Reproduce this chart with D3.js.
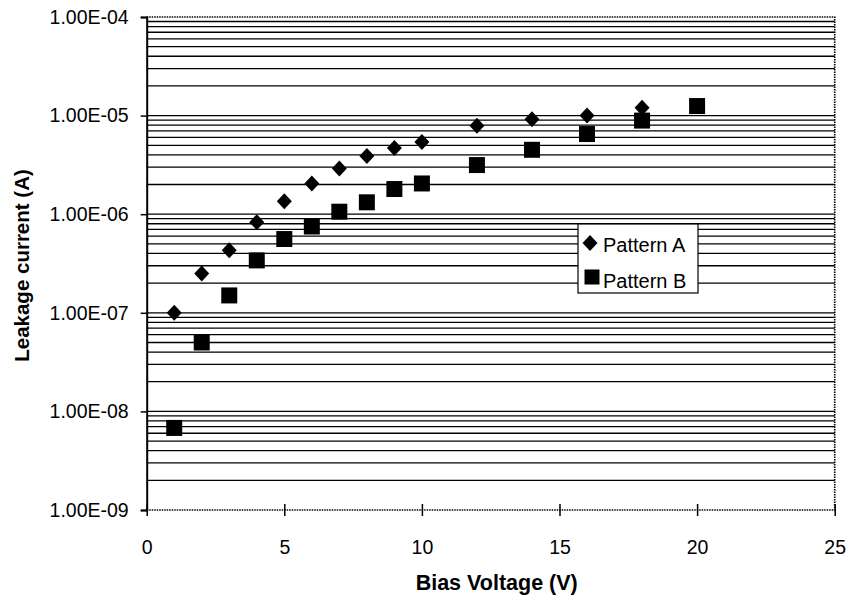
<!DOCTYPE html>
<html>
<head>
<meta charset="utf-8">
<script src="https://cdn.jsdelivr.net/npm/d3@7"></script>
<style>
  body { margin: 0; background: #fff; }
  text { font-family: "Liberation Sans", Arial, sans-serif; fill: #000; }
</style>
</head>
<body>
<script>
//data
var voltageA = [1, 2, 3, 4, 5, 6, 7, 8, 9, 10, 12, 14, 16, 18];
var currentA = [1.0e-7, 2.5e-7, 4.3e-7, 8.3e-7, 1.35e-6, 2.05e-6, 2.9e-6, 3.9e-6, 4.7e-6, 5.4e-6, 7.9e-6, 9.2e-6, 1.0e-5, 1.2e-5];
var voltageB = [1, 2, 3, 4, 5, 6, 7, 8, 9, 10, 12, 14, 16, 18, 20];
var currentB = [6.8e-9, 5.0e-8, 1.5e-7, 3.4e-7, 5.6e-7, 7.5e-7, 1.06e-6, 1.32e-6, 1.8e-6, 2.05e-6, 3.15e-6, 4.5e-6, 6.5e-6, 8.9e-6, 1.25e-5];
var xTicks = [0, 5, 10, 15, 20, 25];
var yTicks = [1e-9, 1e-8, 1e-7, 1e-6, 1e-5, 1e-4];
var yTickLabels = ["1.00E-09", "1.00E-08", "1.00E-07", "1.00E-06", "1.00E-05", "1.00E-04"];
var seriesNames = ["Pattern A", "Pattern B"];

//frame (note: "top" is taken by window.top, so use plot* names)
var width = 848, height = 595;
var plotLeft = 146.7, plotRight = 834.7, plotTop = 17, plotBottom = 510;

var svg = d3.select("body").append("svg")
    .attr("width", width)
    .attr("height", height);

var x = d3.scaleLinear().domain([0, 25]).range([plotLeft, plotRight]);
var y = d3.scaleLog().domain([1e-9, 1e-4]).range([plotBottom, plotTop]);

//gridlines: every decade plus 2..9 in between
var gridVals = [];
for (var e = -9; e < -4; e++) {
    for (var m = 1; m <= 9; m++) {
        if (m == 1 && e == -9) continue;
        gridVals.push(m * Math.pow(10, e));
    }
}
svg.selectAll(".grid")
    .data(gridVals)
    .enter()
    .append("line")
    .attr("class", "grid")
    .attr("x1", plotLeft)
    .attr("x2", plotRight)
    .attr("y1", function(d){ return y(d); })
    .attr("y2", function(d){ return y(d); })
    .style("stroke", "#000")
    .style("stroke-width", 1.3);

//dotted frame on top, right and bottom
svg.append("path")
    .attr("d", "M" + plotLeft + "," + plotTop + "H" + plotRight + "V" + plotBottom + "H" + plotLeft)
    .style("fill", "none")
    .style("stroke", "#000")
    .style("stroke-width", 1.6)
    .style("stroke-dasharray", "1.5,1");

//y axis
var yAxis = d3.axisLeft(y)
    .tickValues(yTicks)
    .tickSize(6)
    .tickPadding(12)
    .tickFormat(function(d, i){ return yTickLabels[i]; });
var gy = svg.append("g")
    .attr("transform", "translate(" + plotLeft + ",0)")
    .call(yAxis);
gy.select(".domain").style("stroke-width", 2);
gy.selectAll(".tick line").style("stroke-width", 1.5);
gy.selectAll(".tick text")
    .style("font-size", "19.5px")
    .style("font-family", "'Liberation Sans', Arial, sans-serif");

//x axis, ticks cross the line
var xAxis = d3.axisBottom(x)
    .tickValues(xTicks)
    .tickSize(6)
    .tickPadding(24)
    .tickFormat(d3.format("d"));
var gx = svg.append("g")
    .attr("transform", "translate(0," + plotBottom + ")")
    .call(xAxis);
gx.select(".domain").remove();
gx.selectAll(".tick line")
    .attr("y1", -6)
    .style("stroke-width", 1.5);
gx.selectAll(".tick text")
    .style("font-size", "19.5px")
    .style("font-family", "'Liberation Sans', Arial, sans-serif");

//axis titles
svg.append("text")
    .attr("x", (plotLeft + plotRight) / 2 + 6)
    .attr("y", 590)
    .attr("text-anchor", "middle")
    .style("font-size", "21.5px")
    .style("font-weight", "bold")
    .text("Bias Voltage (V)");

svg.append("text")
    .attr("transform", "translate(29," + ((plotTop + plotBottom) / 2 + 2) + ") rotate(-90)")
    .attr("text-anchor", "middle")
    .style("font-size", "20.5px")
    .style("font-weight", "bold")
    .text("Leakage current (A)");

//markers
var diamond = "M0,-8L7.5,0L0,8L-7.5,0Z";
var square = d3.symbol().type(d3.symbolSquare).size(256)();

svg.selectAll(".ptA")
    .data(voltageA)
    .enter()
    .append("path")
    .attr("class", "ptA")
    .attr("d", diamond)
    .attr("transform", function(d, i){ return "translate(" + x(d) + "," + y(currentA[i]) + ")"; })
    .style("fill", "#000");

svg.selectAll(".ptB")
    .data(voltageB)
    .enter()
    .append("path")
    .attr("class", "ptB")
    .attr("d", square)
    .attr("transform", function(d, i){ return "translate(" + x(d) + "," + y(currentB[i]) + ")"; })
    .style("fill", "#000");

//legend
var legend = svg.append("g").attr("transform", "translate(578,224)");
legend.append("rect")
    .attr("width", 120)
    .attr("height", 69)
    .style("fill", "#fff")
    .style("stroke", "#000")
    .style("stroke-width", 1.2);
legend.append("path")
    .attr("d", diamond)
    .attr("transform", "translate(12,19)");
legend.append("path")
    .attr("d", d3.symbol().type(d3.symbolSquare).size(225)())
    .attr("transform", "translate(14,53)");
legend.selectAll(".legText")
    .data(seriesNames)
    .enter()
    .append("text")
    .attr("class", "legText")
    .attr("x", 25)
    .attr("y", function(d, i){ return 28 + i * 36; })
    .style("font-size", "20px")
    .text(function(d){ return d; });
</script>
</body>
</html>
